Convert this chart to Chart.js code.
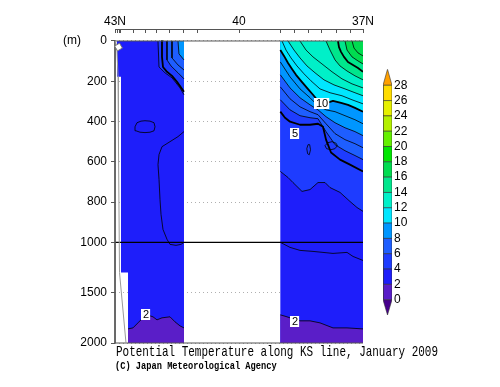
<!DOCTYPE html>
<html><head><meta charset="utf-8">
<script src="https://cdn.jsdelivr.net/npm/chart.js@4/dist/chart.umd.min.js"></script>
<style>
html,body{margin:0;padding:0;background:#fff;}
#wrap{position:relative;width:500px;height:387px;overflow:hidden;background:#fff;}
#main{position:absolute;left:0;top:0;}
#cbar{position:absolute;left:370px;top:60px;}
.txt{position:absolute;white-space:nowrap;color:#000;transform-origin:0 0;}
</style></head><body>
<div id="wrap">
<canvas id="main" width="500" height="387"></canvas>
<canvas id="cbar" width="60" height="270"></canvas>
<div class="txt" style="left:63px;top:33px;font:12px 'Liberation Sans',Arial,sans-serif;">(m)</div>
<div class="txt" style="left:116px;top:344px;font:15px 'Liberation Mono',monospace;transform:scaleX(0.73);">Potential Temperature along KS line, January 2009</div>
<div class="txt" style="left:115px;top:360px;font:bold 11px 'Liberation Mono',monospace;transform:scaleX(0.79);">(C) Japan Meteorological Agency</div>
</div>
<script>
// ---------------- DATA ----------------
// axes
const latTicks = [43, 42.95, 42.90, 42.855, 42.56, 42.27, 42, 41.67, 41.35, 41, 40, 39, 38.65, 38.31, 38, 37.63, 37.31, 37];
const latTickLabels = {43: '43N', 40: '40', 37: '37N'};
const depthTicks = [0, 200, 400, 600, 800, 1000, 1500, 2000];

// colour levels (deg C) and palette (below 0, 0-2, ..., 26-28, above 28)
const levels = [0, 2, 4, 6, 8, 10, 12, 14, 16, 18, 20, 22, 24, 26, 28];
const palette = ['#46008c', '#5a1ec8', '#1e1efa', '#1e3cff', '#1e5eff', '#0096ff', '#00e6ff', '#00f0c8',
                 '#00e68c', '#00dc50', '#00e600', '#64f000', '#b4f000', '#e6f000', '#ffdc00', '#ffa000'];

// data panels (lat, depth m)
const leftPanelLat   = [42.952, 41.331, 41.331, 42.685, 42.685, 42.855, 42.855, 42.952];
const leftPanelDepth = [0, 0, 2000, 2000, 1300, 1300, 178, 178];
const rightPanelLat   = [39.0, 37.0, 37.0, 39.0];
const rightPanelDepth = [0, 0, 2000, 2000];

// left section isotherms
const L8lat = [41.476, 41.452, 41.331];                         const L8dep = [0, 64, 94];
const L7lat = [41.621, 41.621, 41.476, 41.331];                 const L7dep = [0, 84, 119, 144];
const L6lat = [41.742, 41.742, 41.645, 41.476, 41.331];         const L6dep = [0, 94, 124, 158, 188];
const L5lat = [41.863, 41.863, 41.839, 41.742, 41.621, 41.5, 41.331]; const L5dep = [0, 79, 129, 153, 173, 203, 252];
const L4lat = [41.96, 41.935, 41.79, 41.621, 41.427, 41.331];   const L4dep = [0, 129, 158, 183, 233, 267];
const L3aLat = [42.516, 42.468, 42.371, 42.274, 42.153, 42.056, 42.032, 42.056, 42.153, 42.274, 42.395, 42.492, 42.516];
const L3aDep = [426, 406, 398, 396, 398, 406, 426, 446, 453, 455, 453, 446, 426];
const L3bLat = [41.331, 41.476, 41.669, 41.863, 41.935, 41.96, 41.935, 41.911, 41.887, 41.839, 41.742, 41.669, 41.524, 41.403, 41.331];
const L3bDep = [450, 475, 500, 525, 564, 614, 688, 787, 861, 936, 985, 1020, 1030, 1020, 1000];
const L2lat = [42.685, 42.565, 42.444, 42.323, 42.25, 42.153, 42.081, 41.984, 41.863, 41.669, 41.548, 41.427, 41.331];
const L2dep = [1860, 1850, 1800, 1750, 1720, 1730, 1740, 1770, 1750, 1740, 1790, 1830, 1850];

// right section isotherms
const R17lat = [37.266, 37.218, 37.121, 37.0];                  const R17dep = [0, 35, 59, 74];
const R16lat = [37.435, 37.387, 37.266, 37.121, 37.0];          const R16dep = [0, 45, 79, 99, 114];
const R15lat = [37.605, 37.581, 37.532, 37.46, 37.363, 37.242, 37.121, 37.0]; const R15dep = [0, 30, 54, 79, 104, 119, 134, 153];
const R14lat = [37.895, 37.798, 37.677, 37.556, 37.387, 37.194, 37.0];       const R14dep = [0, 45, 94, 124, 149, 173, 193];
const R13lat = [38.524, 38.379, 38.21, 37.992, 37.75, 37.508, 37.266, 37.0]; const R13dep = [0, 45, 79, 114, 153, 188, 213, 233];
const R12lat = [38.814, 38.669, 38.524, 38.355, 38.161, 37.944, 37.702, 37.435, 37.194, 37.0];
const R12dep = [0, 45, 84, 124, 158, 193, 218, 238, 257, 272];
const R11lat = [38.96, 38.863, 38.742, 38.597, 38.427, 38.258, 38.04, 37.798, 37.508, 37.266, 37.0];
const R11dep = [0, 45, 84, 124, 163, 198, 238, 257, 272, 292, 312];
const R10lat = [39.0, 38.911, 38.814, 38.718, 38.621, 38.5, 38.355, 38.21, 38.089, 37.944, 37.726, 37.532, 37.363, 37.194, 37.0];
const R10dep = [45, 74, 109, 139, 168, 198, 233, 267, 297, 312, 297, 307, 317, 332, 351];
const RmidLat = [39.0, 38.766, 38.524, 38.282, 38.089, 37.895, 37.677, 37.435, 37.194, 37.0];
const R9dep = [104, 178, 238, 282, 322, 342, 351, 371, 391, 411];
const R8dep = [168, 233, 282, 317, 342, 376, 406, 431, 450, 470];
const R7dep = [228, 287, 327, 351, 366, 411, 460, 490, 510, 530];
const R6dep = [292, 342, 371, 381, 386, 450, 515, 545, 569, 589];
const R5lat = [39.0, 38.887, 38.766, 38.524, 38.282, 38.089, 37.968, 37.895, 37.774, 37.556, 37.315, 37.0];
const R5dep = [351, 381, 401, 416, 416, 411, 426, 490, 554, 589, 614, 648];
const R4lat = [39.0, 38.814, 38.694, 38.476, 38.282, 38.089, 37.919, 37.798, 37.556, 37.315, 37.145, 37.0];
const R4dep = [648, 678, 703, 747, 738, 703, 703, 728, 752, 797, 827, 846];
const R4eLat = [37.92, 37.85, 37.75, 37.65, 37.62, 37.68, 37.78, 37.88, 37.92];
const R4eDep = [520, 505, 500, 508, 520, 535, 540, 535, 520];
const R4fLat = [38.36, 38.33, 38.29, 38.27, 38.30, 38.34, 38.36];
const R4fDep = [535, 515, 515, 540, 565, 560, 535];
const R3lat = [39.0, 38.766, 38.524, 38.21, 37.968, 37.726, 37.387, 37.242, 37.0];
const R3dep = [1000, 1050, 1080, 1090, 1100, 1110, 1100, 1140, 1180];
const R2lat = [39.0, 38.839, 38.694, 38.524, 38.282, 38.04, 37.726, 37.387, 37.0];
const R2dep = [1720, 1740, 1760, 1780, 1780, 1800, 1850, 1850, 1860];

// sea-bottom line near the coast
const bottomLat = [42.988, 42.952, 42.927, 42.915, 42.891, 42.734];
const bottomDep = [0, 45, 178, 540, 1300, 2000];

// contour labels
const labelText  = ['10', '5', '2', '2'];
const labelLat   = [37.992, 38.645, 42.25, 38.645];
const labelDepth = [312, 457, 1713, 1787];
// small tilted label box at the coast
const coastLabelLat = [42.915];
const coastLabelDepth = [30];

// --------------- helpers ---------------
// depth axis is stretched: 0-1000 m twice as tall as 1000-2000 m
const toU = d => d <= 1000 ? d : 1000 + (d - 1000) / 2;
const pts = (la, de) => la.map((v, i) => ({x: v, y: toU(de[i])}));
const binColor = lo => palette[levels.indexOf(lo) + 1];

function above(la, de) {            // region warmer than an isotherm: close along surface
  const p = pts(la, de);
  p.push({x: la[la.length - 1], y: 0});
  if (de[0] > 0) p.push({x: la[0], y: 0});
  return p;
}
function below(la, de) {            // region colder than an isotherm: close along 2000 m
  const p = pts(la, de);
  p.push({x: la[la.length - 1], y: toU(2000)});
  p.push({x: la[0], y: toU(2000)});
  return p;
}
const poly = (data, color) => ({data, fill: 'shape', backgroundColor: color, borderColor: 'rgba(0,0,0,0)', borderWidth: 0, pointRadius: 0});
const line = (data, w, color, extra) => Object.assign({data, fill: false, borderColor: color || '#000', borderWidth: w, pointRadius: 0, borderJoinStyle: 'round'}, extra || {});

const ds = [];
// left section
ds.push(poly(pts(leftPanelLat, leftPanelDepth), binColor(2)));
ds.push(poly(above(L4lat, L4dep), binColor(4)));
ds.push(poly(above(L6lat, L6dep), binColor(6)));
ds.push(poly(above(L8lat, L8dep), binColor(8)));
ds.push(poly(below(L2lat, L2dep), binColor(0)));
// right section
ds.push(poly(pts(rightPanelLat, rightPanelDepth), binColor(2)));
ds.push(poly(above(R4lat, R4dep), binColor(4)));
ds.push(poly(above(RmidLat, R6dep), binColor(6)));
ds.push(poly(above(RmidLat, R8dep), binColor(8)));
ds.push(poly(above(R10lat, R10dep), binColor(10)));
ds.push(poly(above(R12lat, R12dep), binColor(12)));
ds.push(poly(above(R14lat, R14dep), binColor(14)));
ds.push(poly(above(R16lat, R16dep), binColor(16)));
ds.push(poly(below(R2lat, R2dep), binColor(0)));
// thin isotherms
[[L8lat, L8dep], [L7lat, L7dep], [L6lat, L6dep], [L4lat, L4dep], [L3aLat, L3aDep], [L3bLat, L3bDep], [L2lat, L2dep],
 [R17lat, R17dep], [R16lat, R16dep], [R14lat, R14dep], [R13lat, R13dep], [R12lat, R12dep], [R11lat, R11dep],
 [RmidLat, R9dep], [RmidLat, R8dep], [RmidLat, R7dep], [RmidLat, R6dep], [R4lat, R4dep], [R4eLat, R4eDep], [R4fLat, R4fDep],
 [R3lat, R3dep], [R2lat, R2dep]].forEach(([a, b]) => ds.push(line(pts(a, b), 0.8)));
// thick isotherms (5, 10, 15)
[[L5lat, L5dep], [R5lat, R5dep], [R10lat, R10dep], [R15lat, R15dep]].forEach(([a, b]) => ds.push(line(pts(a, b), 1.8)));
// 1000 m line and frame
ds.push(line([{x: 43, y: toU(1000)}, {x: 37, y: toU(1000)}], 1.2, '#000', {clip: false}));
ds.push(line([{x: 43, y: 0}, {x: 37, y: 0}], 1, '#555', {clip: false}));
ds.push(line([{x: 43, y: toU(2000)}, {x: 37, y: toU(2000)}], 1, '#555', {clip: false}));
ds.push(line([{x: 43, y: 0}, {x: 43, y: toU(2000)}], 1, '#555', {clip: false}));
ds.push(line(pts(bottomLat, bottomDep), 1, '#9a9a9a'));
ds.push({data: pts(coastLabelLat, coastLabelDepth), showLine: false, pointStyle: 'rect', pointRadius: 4, rotation: -30,
         pointBackgroundColor: '#fff', pointBorderColor: '#777', pointBorderWidth: 1, clip: false});
ds.forEach((d, i) => { d.order = ds.length - i; });

const contourLabels = {
  id: 'contourLabels',
  afterDatasetsDraw(chart) {
    const {ctx} = chart, sx = chart.scales.x, sy = chart.scales.y;
    ctx.save();
    ctx.font = '11px "Liberation Sans", Arial, sans-serif';
    ctx.textAlign = 'center'; ctx.textBaseline = 'middle';
    labelText.forEach((t, i) => {
      const px = sx.getPixelForValue(labelLat[i]), py = sy.getPixelForValue(toU(labelDepth[i]));
      const w = ctx.measureText(t).width + 3, h = 11;
      ctx.fillStyle = '#fff'; ctx.fillRect(Math.round(px - w / 2), Math.round(py - h / 2), w, h);
      ctx.fillStyle = '#000'; ctx.fillText(t, px, py + 0.5);
    });
    ctx.restore();
  }
};

new Chart(document.getElementById('main'), {
  type: 'line',
  data: {datasets: ds},
  plugins: [contourLabels],
  options: {
    responsive: false, animation: false, devicePixelRatio: 1, events: [],
    layout: {padding: {left: 0, right: 137, top: 0, bottom: 44}},
    plugins: {legend: {display: false}, tooltip: {enabled: false}},
    scales: {
      x: {
        type: 'linear', position: 'top', reverse: true, min: 37, max: 43,
        afterBuildTicks: s => { s.ticks = latTicks.map(v => ({value: v})); },
        afterFit: s => { s.height = 29; },
        ticks: {autoSkip: false, maxRotation: 0, padding: 4, color: '#000',
                font: {family: 'Liberation Sans', size: 12},
                callback: v => latTickLabels[v] || ''},
        grid: {drawOnChartArea: false, drawTicks: true, tickLength: -4, tickColor: '#555'},
        border: {display: true, color: '#555', width: 1}
      },
      y: {
        type: 'linear', reverse: true, min: -59.6, max: toU(2000),
        afterBuildTicks: s => { s.ticks = depthTicks.map(d => ({value: toU(d)})); },
        afterFit: s => { s.width = 115; },
        ticks: {autoSkip: false, padding: 4, color: '#000',
                font: {family: 'Liberation Sans', size: 12},
                callback: v => { const d = depthTicks.find(t => toU(t) === v); return d === undefined ? '' : String(d); }},
        grid: {drawOnChartArea: true, color: '#b0b0b0', lineWidth: 1, drawTicks: true, tickLength: 4, tickColor: '#555'},
        border: {display: false, dash: [1, 3]}
      }
    }
  }
});

// ---------------- colour bar ----------------
const cbDs = [];
levels.slice(0, -1).forEach((lo, i) => {
  cbDs.push({data: [{x: 0, y: lo}, {x: 1, y: lo}, {x: 1, y: lo + 2}, {x: 0, y: lo + 2}, {x: 0, y: lo}],
    fill: 'shape', backgroundColor: palette[i + 1], borderColor: '#333', borderWidth: 0.6, pointRadius: 0});
});
cbDs.push({data: [{x: 0, y: 0}, {x: 1, y: 0}, {x: 0.5, y: -2}, {x: 0, y: 0}],
  fill: 'shape', backgroundColor: palette[0], borderColor: '#333', borderWidth: 0.6, pointRadius: 0});
cbDs.push({data: [{x: 0, y: 28}, {x: 1, y: 28}, {x: 0.5, y: 30.1}, {x: 0, y: 28}],
  fill: 'shape', backgroundColor: palette[15], borderColor: '#333', borderWidth: 0.6, pointRadius: 0});

new Chart(document.getElementById('cbar'), {
  type: 'line',
  data: {datasets: cbDs},
  options: {
    responsive: false, animation: false, devicePixelRatio: 1, events: [],
    layout: {padding: {left: 13, right: 0, top: 8, bottom: 15}},
    plugins: {legend: {display: false}, tooltip: {enabled: false}},
    scales: {
      x: {type: 'linear', min: 0, max: 1, display: false},
      y: {type: 'linear', position: 'right', min: -2, max: 30.1,
          afterBuildTicks: s => { s.ticks = levels.map(v => ({value: v})); },
          afterFit: s => { s.width = 38; },
          grid: {display: false, drawTicks: false}, border: {display: false},
          ticks: {padding: 2, color: '#000', font: {family: 'Liberation Sans', size: 12}}}
    }
  }
});
</script>
</body></html>
